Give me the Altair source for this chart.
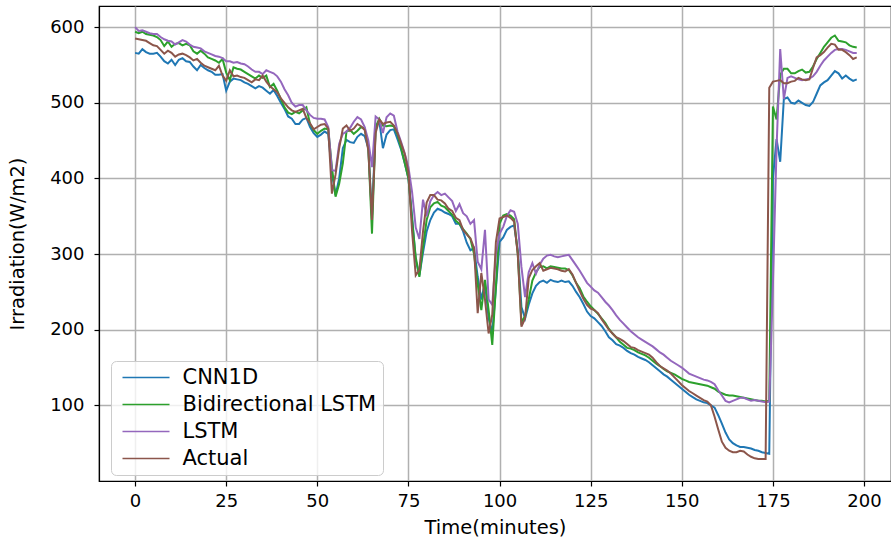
import altair as alt
import pandas as pd

minutes = list(range(199))

cnn1d = [
    566, 565, 571, 567, 565, 565, 566, 561, 555, 552,
    557, 550, 557, 559, 555, 554, 548, 543, 550, 546,
    543, 541, 537, 537, 538, 516, 528, 532, 531, 530,
    527, 525, 522, 519, 522, 520, 516, 512, 517, 509,
    500, 492, 482, 479, 472, 472, 478, 480, 468, 460,
    455, 458, 462, 459, 407, 378, 400, 440, 451, 448,
    447, 455, 459, 456, 440, 350, 468, 476, 440, 458,
    464, 465, 452, 438, 420, 400, 350, 292, 272, 302,
    330, 345, 355, 360, 358, 355, 353, 350, 340, 340,
    330, 315, 305, 308, 270, 240, 262, 215, 196, 255,
    316, 322, 332, 336, 338, 305, 230, 215, 233, 248,
    258, 263, 265, 262, 266, 264, 263, 265, 263, 264,
    258, 250, 243, 234, 224, 218, 215, 210, 205, 198,
    190, 186, 181, 179, 176, 172, 169, 167, 164, 162,
    160, 157, 153, 149, 145, 141, 138, 134, 130, 126,
    122, 118, 114, 111, 108, 106, 104, 103, 100, 97,
    87, 76, 64, 55, 50, 47, 45, 45, 44, 43,
    41, 40, 38, 37, 36, 400, 452, 422, 505, 507,
    500, 499, 503, 500, 497, 496, 501, 512, 523, 527,
    530, 536, 542, 539, 532, 536, 532, 529, 531,
]

bilstm = [
    594, 592, 594, 591, 590, 589, 587, 583, 575, 581,
    574, 578, 579, 576, 578, 576, 568, 565, 569, 565,
    560, 558, 556, 553, 558, 540, 530, 547, 545, 544,
    541, 538, 535, 532, 536, 533, 536, 521, 525, 516,
    505, 494, 487, 485, 488, 486, 490, 494, 472, 464,
    459, 463, 466, 465, 415, 376, 393, 420, 462, 464,
    459, 463, 468, 466, 440, 327, 468, 479, 470, 469,
    470, 469, 458, 440, 420, 400, 345, 296, 270, 310,
    345, 362, 367, 369, 364, 362, 357, 352, 344, 340,
    333, 327, 320, 300, 260, 226, 266, 226, 180, 257,
    340, 351, 353, 351, 346, 300, 210, 218, 240, 265,
    276, 283, 284, 281, 284, 283, 282, 281, 281, 279,
    272, 262, 255, 244, 237, 231, 226, 221, 215, 209,
    201, 195, 190, 184, 180, 176, 175, 173, 170, 168,
    166, 163, 159, 155, 152, 148, 145, 143, 141, 138,
    135, 133, 131, 130, 129, 128, 127, 126, 124, 122,
    118, 116, 114, 113, 113, 112, 111, 110, 109, 108,
    107, 106, 106, 105, 106, 495, 478, 537, 545, 545,
    539, 539, 542, 544, 540, 541, 548, 558, 566, 574,
    580, 586, 589, 582, 581, 580, 576, 574, 573,
]

lstm = [
    600, 595, 596, 594, 592, 591, 591, 587, 584, 582,
    581, 577, 580, 583, 581, 577, 574, 573, 572, 568,
    566, 564, 562, 561, 559, 555, 555, 553, 554, 552,
    551, 548, 544, 541, 541, 538, 543, 541, 539, 535,
    528, 518, 510, 500, 495, 497, 497, 490, 484, 480,
    479, 479, 478, 468, 411, 410, 446, 459, 462, 467,
    475, 481, 478, 468, 450, 415, 482, 478, 460, 481,
    486, 483, 462, 448, 433, 415, 382, 335, 320, 372,
    350, 370, 378, 382, 378, 380, 375, 370, 357, 366,
    354, 350, 340, 345, 290, 280, 332, 240, 233, 300,
    327, 336, 350, 358, 356, 340, 283, 243, 276, 288,
    274, 286, 294, 298, 299, 297, 296, 297, 298, 299,
    292, 285, 278, 270, 262, 257, 252, 249, 243, 237,
    232, 226, 219, 213, 208, 203, 198, 194, 190, 187,
    184, 181, 178, 174, 170, 167, 163, 159, 156, 153,
    150, 146, 142, 140, 138, 136, 134, 133, 131, 128,
    120, 113, 106, 104, 106, 108, 110, 110, 108, 106,
    107, 106, 105, 104, 105, 260, 440, 571, 505, 533,
    535, 533, 531, 530, 531, 532, 535, 541, 549, 556,
    561, 566, 570, 571, 571, 570, 568, 566, 566,
]

actual = [
    585, 584, 583, 582, 579, 576, 575, 570, 565, 569,
    566, 561, 564, 565, 563, 560, 556, 558, 553, 549,
    547, 545, 543, 549, 536, 529, 543, 535, 536, 534,
    533, 530, 527, 531, 530, 536, 528, 522, 518, 514,
    506, 500, 494, 490, 488, 490, 492, 480, 473, 465,
    468, 471, 472, 466, 380, 405, 440, 466, 470, 463,
    466, 472, 469, 464, 437, 345, 460, 478, 472, 474,
    475, 470, 460, 446, 432, 408, 330, 272, 279, 330,
    368, 378, 378, 372, 371, 367, 360, 357, 348, 345,
    332, 326, 321, 308, 222, 275, 240, 195, 220, 316,
    347, 349, 351, 348, 343, 300, 204, 215, 268, 279,
    284, 288, 278, 280, 282, 281, 280, 278, 277, 280,
    273, 262, 251, 241, 233, 228, 226, 222, 214, 207,
    200, 195, 190, 188, 185, 181, 177, 176, 173, 171,
    169, 167, 163, 157, 152, 149, 146, 142, 137, 132,
    127, 123, 119, 116, 113, 110, 107, 105, 100, 85,
    68, 52, 44, 40, 38, 38, 40, 39, 35, 32,
    30, 29, 29, 29, 520, 528, 529, 530, 526, 526,
    528, 529, 533, 531, 530, 531, 546, 560, 563, 567,
    573, 578, 577, 570, 570, 567, 563, 558, 560,
]

series_names = ["CNN1D", "Bidirectional LSTM", "LSTM", "Actual"]
series_colors = ["#1f77b4", "#2ca02c", "#9467bd", "#8c564b"]
x_ticks = [0, 25, 50, 75, 100, 125, 150, 175, 200]
y_ticks = [100, 200, 300, 400, 500, 600]

rows = []
for name, vals in zip(series_names, [cnn1d, bilstm, lstm, actual]):
    for t, v in zip(minutes, vals):
        rows.append({"Time": t, "Value": v, "Series": name})
df = pd.DataFrame(rows)

FONT = "DejaVu Sans"

chart = (
    alt.Chart(df)
    .mark_line(strokeWidth=2, clip=True)
    .encode(
        x=alt.X(
            "Time:Q",
            scale=alt.Scale(domain=[-9.9, 207.4], nice=False, zero=False),
            axis=alt.Axis(values=x_ticks, title="Time(minutes)", labelFlush=False,
                          labelPadding=6, titlePadding=8),
        ),
        y=alt.Y(
            "Value:Q",
            scale=alt.Scale(domain=[0, 628], nice=False, zero=False),
            axis=alt.Axis(values=y_ticks, title="Irradiation(W/m2)",
                          labelPadding=10, titlePadding=22),
        ),
        color=alt.Color(
            "Series:N",
            sort=series_names,
            scale=alt.Scale(domain=series_names, range=series_colors),
            legend=alt.Legend(
                title=None,
                orient="none",
                legendX=12,
                legendY=355,
                symbolType="M-4.7,0H4.7",
                symbolSize=100,
                symbolOffset=18.5,
                symbolStrokeWidth=1.5,
                symbolFillColor="transparent",
                labelFontSize=21,
                labelFont=FONT,
                labelColor="black",
                labelLimit=0,
                labelOffset=26,
                rowPadding=5,
                padding=6,
                fillColor="rgba(255,255,255,0.8)",
                strokeColor="#cccccc",
                cornerRadius=5,
            ),
        ),
        detail="Series:N",
    )
    .properties(
        width=792,
        height=475,
        autosize=alt.AutoSizeParams(type="none"),
        padding={"left": 99, "top": 6, "right": 0, "bottom": 60},
    )
    .configure(font=FONT)
    .configure_view(stroke="black", strokeWidth=1.2)
    .configure_axis(
        labelFont=FONT,
        titleFont=FONT,
        labelFontSize=18,
        titleFontSize=19.5,
        titleFontWeight="normal",
        labelColor="black",
        titleColor="black",
        domainColor="black",
        domainWidth=1.2,
        tickColor="black",
        tickWidth=1.2,
        tickSize=5,
        gridColor="#b0b0b0",
        gridWidth=1.5,
    )
)

chart.save("out.html", embed_options={"renderer": "svg", "actions": False})
